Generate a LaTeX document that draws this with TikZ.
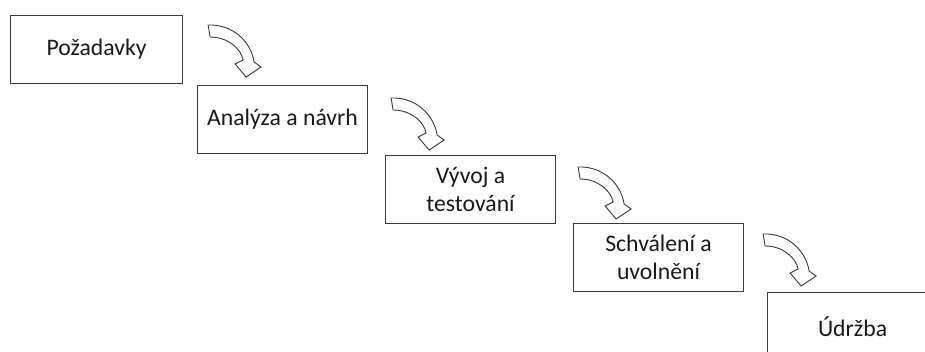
\documentclass[tikz,border=0pt]{standalone}
\usepackage{fontspec}
\setmainfont{Carlito}
\usetikzlibrary{calc}
\definecolor{edge}{HTML}{3A3A3A}
\tikzset{
  phase/.style={draw=edge, line width=1.1pt, fill=white, rectangle,
    minimum width=170pt, minimum height=68pt, anchor=north west,
    align=center, inner sep=0pt, text=black!90,
    font=\fontsize{23.7}{28}\selectfont},
  arrowline/.style={draw=edge, line width=0.9pt, fill=white, line join=miter},
  bendarrow/.pic={
    \draw[arrowline] (0,0) .. controls (25,-1) and (43,17) .. (46,37)
      -- (53,42) -- (38,52) -- (27,39) -- (35,35)
      .. controls (33,24) and (20,12) .. (2,12) -- cycle;
  }
}
\begin{document}
\begin{tikzpicture}[x=1pt,y=-1pt]
  \useasboundingbox (0,0) rectangle (925,351);
  \clip (0,0) rectangle (925,351);
  % waterfall phases
  \node[phase, minimum width=172pt] (b1) at (10,15)  {Požadavky};
  \node[phase] (b2) at (197,85)  {Analýza a návrh};
  \node[phase] (b3) at (385,155) {Vývoj a\\testování};
  \node[phase] (b4) at (573,223) {Schválení a\\uvolnění};
  \node[phase] (b5) at (767,292) {Údržba};
  % curved block arrows between the phases
  \pic at ($(b1.north east)+(25,10)$) {bendarrow};
  \pic at ($(b2.north east)+(23,13)$) {bendarrow};
  \pic at ($(b3.north east)+(22,12)$) {bendarrow};
  \pic at ($(b4.north east)+(19,11)$) {bendarrow};
\end{tikzpicture}
\end{document}
